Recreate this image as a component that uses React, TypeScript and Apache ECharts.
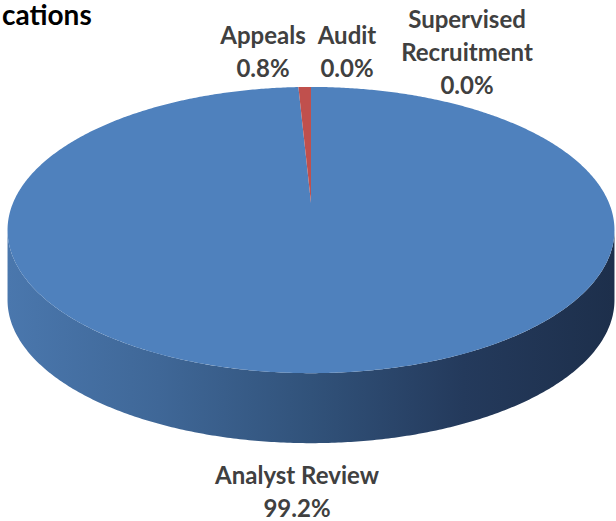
import React, { useEffect, useRef } from "react";
import * as echarts from "echarts";

const categories = ["Analyst Review", "Appeals", "Audit", "Supervised Recruitment"];
const labelNames = ["Analyst Review", "Appeals", "Audit", "Supervised\nRecruitment"];
const values = [99.2, 0.8, 0.0, 0.0];
const titleText = "cations";

const sliceColors = ["#4f81bd", "#c0504d", "#9bbb59", "#8064a2"];
const sideColors = ["#3a6390", "#8c3836", "#71893f", "#5c4876"];
const labelPos: number[][] = [
  [297, 491],
  [263, 51],
  [347, 51],
  [467, 51],
];

// projection parameters for the tilted pie
const X0 = 311;
const Y0 = 203;
const A = 298;
const B = 138;
const K = 0.189;
const DEPTH = 70;

function proj(phi: number, dy = 0): number[] {
  const w = 1 + K * Math.cos(phi);
  return [X0 + (A * Math.sin(phi)) / w, Y0 - (B * Math.cos(phi)) / w + dy];
}

function arcPoints(a: number, b: number, dy = 0): number[][] {
  const n = Math.max(2, Math.ceil((b - a) / (Math.PI / 360)));
  const pts: number[][] = [];
  for (let j = 0; j <= n; j++) {
    pts.push(proj(a + ((b - a) * j) / n, dy));
  }
  return pts;
}

export default function App() {
  const ref = useRef<HTMLDivElement>(null);
  useEffect(() => {
    document.body.style.margin = "0";
    const chart = echarts.init(ref.current!, undefined, { renderer: "svg" });
    const total = values.reduce((s, v) => s + v, 0);
    const phiL = Math.acos(-K);
    const phiR = 2 * Math.PI - phiL;

    const renderItem = (params: any, api: any) => {
      const i = params.dataIndex;
      const v = api.value(0);
      let start = 0;
      for (let j = 0; j < i; j++) start += values[j];
      const a = (start / total) * 2 * Math.PI;
      const b = ((start + v) / total) * 2 * Math.PI;
      const children: any[] = [];
      if (b > a) {
        const s = Math.max(a, phiL);
        const e = Math.min(b, phiR);
        if (e > s) {
          const top = arcPoints(s, e, 0);
          const bot = arcPoints(s, e, DEPTH).reverse();
          children.push({
            type: "polygon",
            shape: { points: top.concat(bot) },
            style: {
              fill:
                i === 0
                  ? {
                      type: "linear",
                      x: 0,
                      y: 0,
                      x2: 1,
                      y2: 0,
                      colorStops: [
                        { offset: 0, color: "#4a77ad" },
                        { offset: 0.25, color: "#3f6797" },
                        { offset: 0.5, color: "#31527a" },
                        { offset: 0.75, color: "#243a5c" },
                        { offset: 1, color: "#1d2f4b" },
                      ],
                    }
                  : sideColors[i],
            },
          });
        }
        const face = [[X0, Y0]].concat(arcPoints(a, b, 0));
        children.push({
          type: "polygon",
          shape: { points: face },
          style: { fill: sliceColors[i] },
        });
      }
      const pct = ((v / total) * 100).toFixed(1) + "%";
      children.push({
        type: "text",
        x: labelPos[i][0],
        y: labelPos[i][1],
        style: {
          text: labelNames[i] + "\n" + pct,
          align: "center",
          verticalAlign: "middle",
          font: "bold 24px Lato",
          lineHeight: 33,
          fill: "#404040",
        },
      });
      return { type: "group", children };
    };

    chart.setOption({
      animation: false,
      backgroundColor: "#ffffff",
      graphic: [
        {
          type: "text",
          left: 2,
          top: 0,
          style: {
            text: titleText,
            font: "bold 28px Lato",
            fill: "#000000",
          },
        },
      ],
      series: [
        {
          type: "custom",
          coordinateSystem: "none",
          renderItem,
          data: values.map((v, i) => ({ value: [v, i], name: categories[i] })),
        },
      ],
    });
    return () => chart.dispose();
  }, []);
  return <div ref={ref} style={{ width: 616, height: 521 }} />;
}
